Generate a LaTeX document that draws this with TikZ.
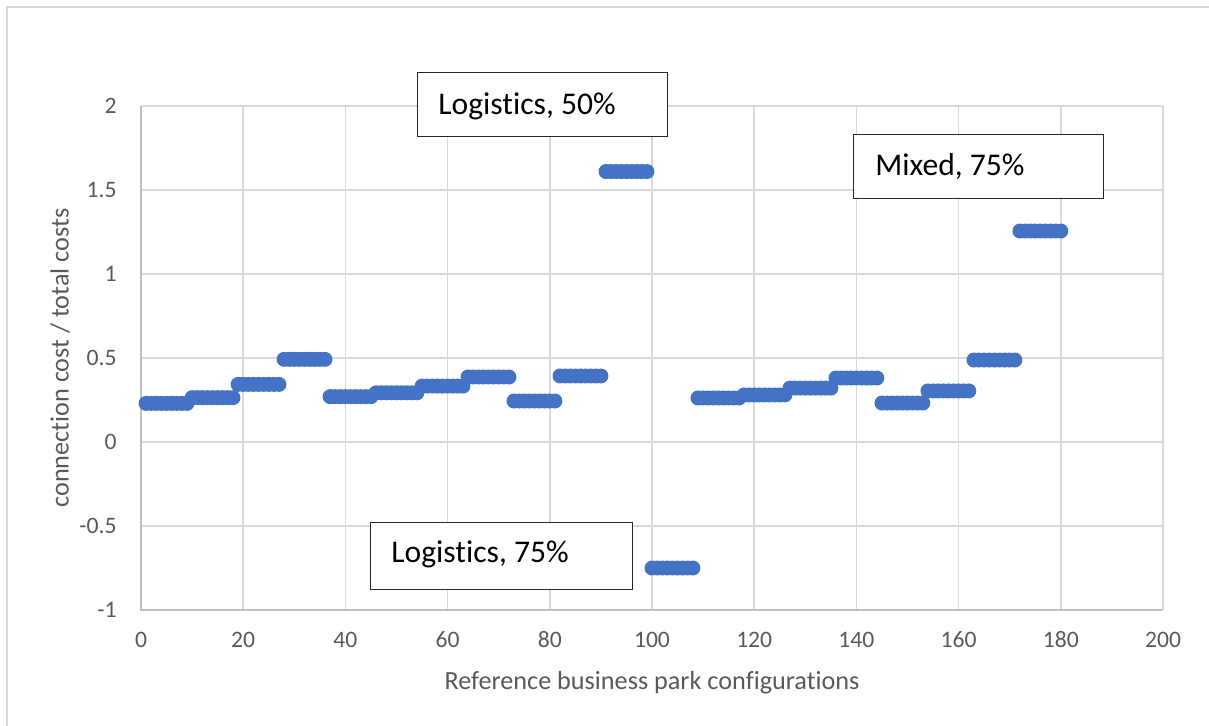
\documentclass[tikz,border=0pt]{standalone}
\usepackage{fontspec}
\setmainfont{Carlito}[RawFeature={-liga}]
\usetikzlibrary{positioning}
\definecolor{markblue}{HTML}{4472C4}
\definecolor{gridgray}{HTML}{D9D9D9}
\definecolor{axisgray}{HTML}{BFBFBF}
\definecolor{txtgray}{HTML}{595959}

\begin{document}
\begin{tikzpicture}[
    x=0.5pt, y=-0.5pt,
    font=\fontsize{11.8}{14}\selectfont,
    text=txtgray,
    gridline/.style={draw=gridgray, line width=0.75pt},
    axisline/.style={draw=axisgray, line width=0.9pt},
    ticklabel/.style={font=\fontsize{11.8}{14}\selectfont, text=txtgray, inner sep=0pt},
    axistitle/.style={font=\fontsize{13.1}{15}\selectfont, text=txtgray, inner sep=0pt},
    labelbox/.style={draw=black!85, fill=white, line width=0.7pt, inner sep=0pt,
        anchor=north west},
    labeltext/.style={font=\fontsize{15.8}{18}\selectfont, text=black, inner sep=0pt,
        anchor=base west},
    dot/.style={fill=markblue},
]
\useasboundingbox (0,0) rectangle (1209,725);

% Chart frame
\coordinate (frame bl) at (7,740);
\coordinate (frame tl) at (7,7);
\coordinate (frame tr) at (1220,7);
\draw[draw=gridgray, line width=0.8pt] (frame bl) -- (frame tl) -- (frame tr);

% Plot area in data coordinates
\begin{scope}[shift={(141,442)}, x=2.555pt, y=84pt]
    % Grid
    \foreach \gx in {20,40,...,200}
        \draw[gridline] (\gx,-1) -- (\gx,2);
    \foreach \gy in {-0.5,0,0.5,1,1.5,2}
        \draw[gridline] (0,\gy) -- (200,\gy);
    % Axes
    \coordinate (origin) at (0,-1);
    \coordinate (x end) at (200,-1);
    \coordinate (y end) at (0,2);
    \draw[axisline] (y end) -- (origin) -- (x end);

    % Tick labels
    \foreach \gx in {0,20,...,200}
        \node[ticklabel] (xtick\gx) at (\gx,-1.178) {\gx};
    \foreach \gy/\lab in {-1/-1,-0.5/-0.5,0/0,0.5/0.5,1/1,1.5/1.5,2/2}
        \node[ticklabel, anchor=east] (ytick\lab) at (-4.7,\gy) {\lab};

    % Data: 20 groups of 9 configurations
    \foreach \v [count=\k] in {0.230,0.264,0.343,0.492,0.270,0.293,0.333,0.387,0.244,0.393,
                               1.610,-0.750,0.262,0.280,0.321,0.381,0.232,0.304,0.488,1.256}
        \foreach \i in {1,...,9}
            \fill[dot] ({(\k-1)*9+\i},\v) circle[radius=3.75pt];
\end{scope}

% Axis titles
\node[axistitle] (xtitle) at (652,683) {Reference business park configurations};
\node[axistitle, rotate=90] (ytitle) at (60,358) {connection cost / total costs};

% Annotation boxes
\node[labelbox, minimum width=125pt, minimum height=32pt] (log50box) at (417,72) {};
\node[labeltext] (log50) at (438,114) {Logistics, 50\%};

\node[labelbox, minimum width=125pt, minimum height=32pt] (mix75box) at (853,134) {};
\node[labeltext] (mix75) at (875,175) {Mixed, 75\%};

\node[labelbox, minimum width=131pt, minimum height=33.5pt] (log75box) at (370,521.5) {};
\node[labeltext] (log75) at (391,562) {Logistics, 75\%};

\end{tikzpicture}
\end{document}
